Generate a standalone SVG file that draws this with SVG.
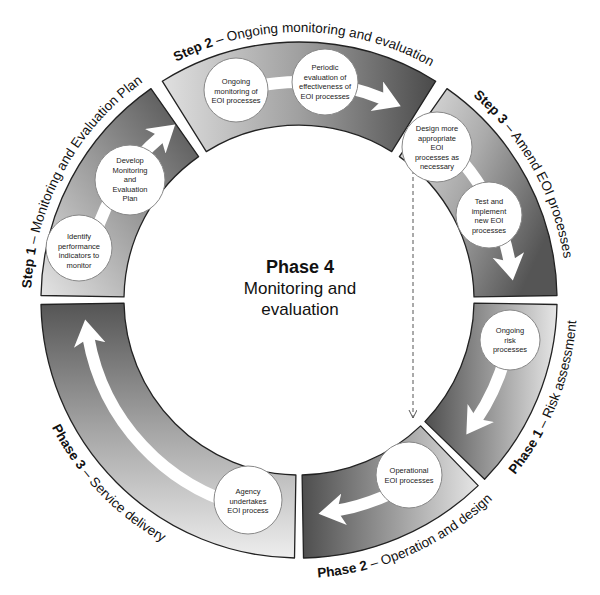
<svg xmlns="http://www.w3.org/2000/svg" width="600" height="595" viewBox="0 0 600 595">
<style>
.seg{stroke:#222;stroke-width:1.3;stroke-linejoin:round}
.nc{fill:#fff;stroke:#888;stroke-width:1}
.nt{font-family:"Liberation Sans",Arial,sans-serif;font-size:7.5px;fill:#222;text-anchor:middle}
.flow{fill:none;stroke:#fff;stroke-width:12}
.lbl{font-family:"Liberation Sans",Arial,sans-serif;font-size:13.5px;fill:#111}
.b{font-weight:bold}
.ctr{font-family:"Liberation Sans",Arial,sans-serif;fill:#111;text-anchor:middle}
</style>
<defs>
<marker id="head" markerUnits="userSpaceOnUse" markerWidth="32" markerHeight="34" refX="8" refY="16" orient="auto">
<path d="M0,0 L26,16 L0,32 L7,16 Z" fill="#fff"/>
</marker>
<marker id="dhead" markerUnits="userSpaceOnUse" markerWidth="10" markerHeight="10" refX="8" refY="4" orient="auto">
<path d="M0,0 L8,4 L0,8" fill="none" stroke="#555" stroke-width="1"/>
</marker>
<linearGradient id="g1" x1="0" y1="1" x2="1" y2="0"><stop offset="0" stop-color="#e4e4e4"/><stop offset="0.5" stop-color="#999"/><stop offset="1" stop-color="#4a4a4a"/></linearGradient>
<linearGradient id="g2" x1="0" y1="0" x2="1" y2="0"><stop offset="0" stop-color="#e0e0e0"/><stop offset="0.5" stop-color="#a0a0a0"/><stop offset="1" stop-color="#4a4a4a"/></linearGradient>
<linearGradient id="g3" x1="0" y1="0" x2="1" y2="0.6"><stop offset="0" stop-color="#e8e8e8"/><stop offset="0.5" stop-color="#aaa"/><stop offset="1" stop-color="#555"/></linearGradient>
<linearGradient id="g4" x1="0" y1="0" x2="1" y2="0"><stop offset="0" stop-color="#4e4e4e"/><stop offset="0.5" stop-color="#999"/><stop offset="1" stop-color="#e6e6e6"/></linearGradient>
<linearGradient id="g6" x1="0" y1="0" x2="0" y2="1"><stop offset="0" stop-color="#555"/><stop offset="0.5" stop-color="#a5a5a5"/><stop offset="1" stop-color="#eee"/></linearGradient>
<path id="topArc" d="M31,300 A268 268 0 1 1 567,300 A268 268 0 1 1 31,300"/>
<path id="botArc" d="M21,300 A278 278 0 0 0 577,300"/>
</defs>

<g id="step1">
<path class="seg" fill="url(#g1)" d="M41,295.5 A258 258 0 0 1 151,88.6 L198.6,156.6 A175 175 0 0 0 124,296.9 Z"/>
<text class="lbl"><textPath href="#topArc" startOffset="133" text-anchor="middle"><tspan class="b">Step 1</tspan> – Monitoring and Evaluation Plan</textPath></text>
</g>
<g id="step2">
<path class="seg" fill="url(#g2)" d="M162.3,81.2 A258 258 0 0 1 435.7,81.2 L391.7,151.6 A175 175 0 0 0 206.3,151.6 Z"/>
<text class="lbl"><textPath href="#topArc" startOffset="426" text-anchor="middle"><tspan class="b">Step 2</tspan> – Ongoing monitoring and evaluation</textPath></text>
</g>
<g id="step3">
<path class="seg" fill="url(#g3)" d="M447,88.6 A258 258 0 0 1 557,295.5 L474,296.9 A175 175 0 0 0 399.4,156.6 Z"/>
<text class="lbl"><textPath href="#topArc" startOffset="705" text-anchor="middle"><tspan class="b">Step 3</tspan> – Amend EOI processes</textPath></text>
</g>
<g id="phase1">
<path class="seg" fill="url(#g4)" d="M557,304.5 A258 258 0 0 1 484.6,479.2 L424.9,421.6 A175 175 0 0 0 474,303.1 Z"/>
<text class="lbl"><textPath href="#botArc" startOffset="768" text-anchor="middle"><tspan class="b">Phase 1</tspan> – Risk assessment</textPath></text>
</g>
<g id="phase2">
<path class="seg" fill="url(#g4)" d="M478.2,485.6 A258 258 0 0 1 303.5,558 L302.1,475 A175 175 0 0 0 420.6,425.9 Z"/>
<text class="lbl"><textPath href="#botArc" startOffset="553" text-anchor="middle"><tspan class="b">Phase 2</tspan> – Operation and design</textPath></text>
</g>
<g id="phase3">
<path class="seg" fill="url(#g6)" d="M294.5,558 A258 258 0 0 1 41,304.5 L124,303.1 A175 175 0 0 0 295.9,475 Z"/>
<text class="lbl"><textPath href="#botArc" startOffset="213" text-anchor="middle"><tspan class="b">Phase 3</tspan> – Service delivery</textPath></text>
</g>

<g id="connectors">
<path class="flow" d="M247.2,507.6 A214 214 0 0 1 88.3,337.2" marker-end="url(#head)"/>
<path class="flow" d="M94.4,237.4 A214 214 0 0 1 161.4,136.1" marker-end="url(#head)"/>
<path class="flow" d="M231.6,92.7 A218 218 0 0 1 384.2,99.3" marker-end="url(#head)"/>
<path class="flow" d="M462.9,162.4 A214 214 0 0 1 509.7,262.8" marker-end="url(#head)"/>
<path class="flow" d="M505.7,355.4 A214 214 0 0 1 476.4,419.7" marker-end="url(#head)"/>
<path class="flow" d="M421.8,475.3 A214 214 0 0 1 336.2,510.7" marker-end="url(#head)"/>
<line x1="413" y1="170" x2="413" y2="418" stroke="#555" stroke-width="1" stroke-dasharray="4,3" marker-end="url(#dhead)"/>
</g>

<g id="n-identify"><circle class="nc" cx="79" cy="248" r="33"/><text class="nt" x="79" y="239">Identify<tspan x="79" dy="9.5">performance</tspan><tspan x="79" dy="9.5">indicators to</tspan><tspan x="79" dy="9.5">monitor</tspan></text></g>
<g id="n-develop"><circle class="nc" cx="130" cy="180" r="35"/><text class="nt" x="130" y="163">Develop<tspan x="130" dy="9.5">Monitoring</tspan><tspan x="130" dy="9.5">and</tspan><tspan x="130" dy="9.5">Evaluation</tspan><tspan x="130" dy="9.5">Plan</tspan></text></g>
<g id="n-ongoing"><circle class="nc" cx="236" cy="90" r="32"/><text class="nt" x="236" y="84">Ongoing<tspan x="236" dy="9.5">monitoring of</tspan><tspan x="236" dy="9.5">EOI processes</tspan></text></g>
<g id="n-periodic"><circle class="nc" cx="325" cy="82" r="33"/><text class="nt" x="325" y="70">Periodic<tspan x="325" dy="9.5">evaluation of</tspan><tspan x="325" dy="9.5">effectiveness of</tspan><tspan x="325" dy="9.5">EOI processes</tspan></text></g>
<g id="n-design"><circle class="nc" cx="437" cy="147" r="35"/><text class="nt" x="437" y="131">Design more<tspan x="437" dy="9.5">appropriate</tspan><tspan x="437" dy="9.5">EOI</tspan><tspan x="437" dy="9.5">processes as</tspan><tspan x="437" dy="9.5">necessary</tspan></text></g>
<g id="n-test"><circle class="nc" cx="489" cy="215" r="33"/><text class="nt" x="489" y="204">Test and<tspan x="489" dy="9.5">implement</tspan><tspan x="489" dy="9.5">new EOI</tspan><tspan x="489" dy="9.5">processes</tspan></text></g>
<g id="n-risk"><circle class="nc" cx="510" cy="340" r="30"/><text class="nt" x="510" y="333">Ongoing<tspan x="510" dy="9.5">risk</tspan><tspan x="510" dy="9.5">processes</tspan></text></g>
<g id="n-operational"><circle class="nc" cx="409" cy="475" r="33"/><text class="nt" x="409" y="473">Operational<tspan x="409" dy="9.5">EOI processes</tspan></text></g>
<g id="n-agency"><circle class="nc" cx="248" cy="500" r="34"/><text class="nt" x="248" y="494">Agency<tspan x="248" dy="9.5">undertakes</tspan><tspan x="248" dy="9.5">EOI process</tspan></text></g>

<g id="center">
<text class="ctr" x="300" y="273" font-size="18" font-weight="bold">Phase 4</text>
<text class="ctr" x="300" y="294" font-size="17">Monitoring and</text>
<text class="ctr" x="300" y="315" font-size="17">evaluation</text>
</g>
</svg>
